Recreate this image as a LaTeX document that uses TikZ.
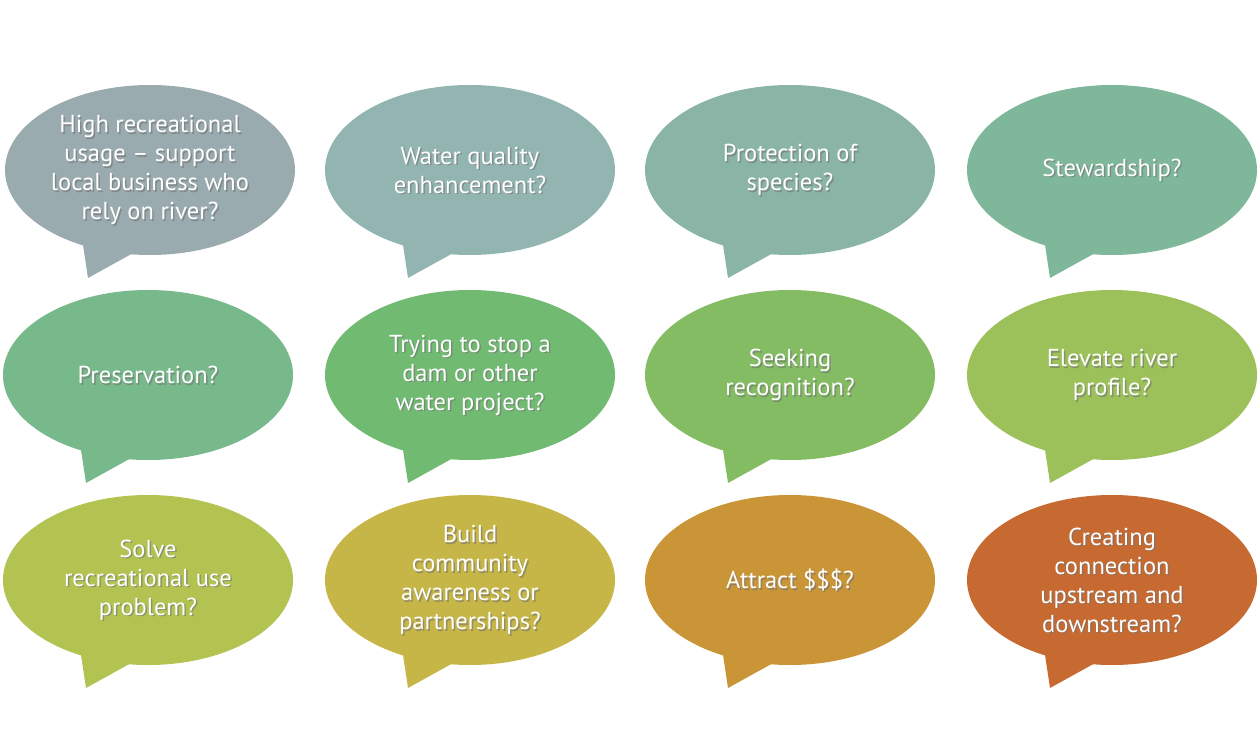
\documentclass[tikz,border=0pt]{standalone}
\usepackage{fontspec}
\setmainfont{PT Sans}
\newcommand{\bub}[5]{% name, cx, cy, color, text
  \fill[#4] (#2-70,#3+55) -- (#2-62,#3+108) -- (#2-15,#3+82) -- cycle;
  \fill[#4] (#2,#3) ellipse [x radius=145, y radius=85];
  \node[txt,text=black!55,opacity=0.6] at (#2+1.5,#3+1.5) {#5};
  \node[txt] (#1) at (#2,#3) {#5};
}
\tikzset{txt/.style={text=white,align=center,font=\fontsize{24.5}{29}\selectfont,inner sep=0}}
\definecolor{c1}{HTML}{9AABB0}\definecolor{c2}{HTML}{93B5B1}\definecolor{c3}{HTML}{8AB5A6}\definecolor{c4}{HTML}{7FB79A}
\definecolor{c5}{HTML}{78B98C}\definecolor{c6}{HTML}{71BA72}\definecolor{c7}{HTML}{84BC63}\definecolor{c8}{HTML}{9CC15A}
\definecolor{c9}{HTML}{B2C352}\definecolor{c10}{HTML}{C6B648}\definecolor{c11}{HTML}{C99536}\definecolor{c12}{HTML}{C76A31}
\begin{document}
\begin{tikzpicture}[x=1pt,y=-1pt]
\useasboundingbox (0,0) rectangle (1260,751);
\bub{b1}{150}{170}{c1}{High recreational\\usage -- support\\local business who\\rely on river?}
\bub{b2}{470}{170}{c2}{Water quality\\enhancement?}
\bub{b3}{790}{170}{c3}{Protection of\\species?}
\bub{b4}{1112}{170}{c4}{Stewardship?}
\bub{b5}{148}{375}{c5}{Preservation?}
\bub{b6}{470}{375}{c6}{Trying to stop a\\dam or other\\water project?}
\bub{b7}{790}{375}{c7}{Seeking\\recognition?}
\bub{b8}{1112}{375}{c8}{Elevate river\\profile?}
\bub{b9}{148}{580}{c9}{Solve\\recreational use\\problem?}
\bub{b10}{470}{580}{c10}{Build\\community\\awareness or\\partnerships?}
\bub{b11}{790}{580}{c11}{Attract \$\$\$?}
\bub{b12}{1112}{580}{c12}{Creating\\connection\\upstream and\\downstream?}
\end{tikzpicture}
\end{document}
